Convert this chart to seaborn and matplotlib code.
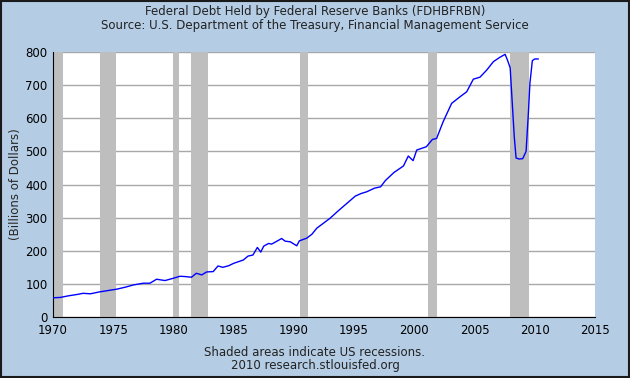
import numpy as np
import pandas as pd
import matplotlib
matplotlib.use('Agg')
import matplotlib.pyplot as plt
import seaborn as sns
from matplotlib.patches import Rectangle

# 数据：年份（小数）与联储持有的联邦债务（十亿美元）
years = [1970.0, 1970.6, 1971.3, 1972.0, 1972.5, 1973.1, 1973.9, 1974.6, 1975.3,
         1976.0, 1976.7, 1977.5, 1978.05, 1978.6, 1979.3, 1980.0, 1980.55, 1981.0,
         1981.5, 1981.9, 1982.35, 1982.75, 1983.3, 1983.7, 1984.1, 1984.6, 1985.0,
         1985.8, 1986.2, 1986.6, 1986.97, 1987.25, 1987.5, 1987.9, 1988.15, 1988.6,
         1988.99, 1989.27, 1989.7, 1990.24, 1990.46, 1991.07, 1991.5, 1991.9, 1992.45,
         1993.0, 1993.7, 1994.4, 1995.1, 1995.6, 1996.05, 1996.7, 1997.2, 1997.6,
         1998.3, 1999.1, 1999.5, 1999.9, 2000.2, 2001.0, 2001.5, 2001.85, 2002.4,
         2003.1, 2003.8, 2004.35, 2004.9, 2005.45, 2006.0, 2006.57, 2007.1, 2007.54,
         2007.73, 2007.96, 2008.15, 2008.3, 2008.45, 2008.7, 2009.0, 2009.28, 2009.47,
         2009.6, 2009.8, 2010.0, 2010.3]
debt = [58, 59, 64, 68, 71.5, 70, 76, 80, 84,
        90, 97, 102, 102, 114, 110, 117, 123, 122,
        120, 132, 127, 136, 137, 154, 150, 155, 162,
        172, 184, 187, 210, 196, 214, 222, 220, 229,
        237, 229, 227, 215, 230, 238, 250, 268, 283,
        298, 321, 343, 365, 373, 378, 389, 393, 412,
        436, 456, 486, 472, 504, 514, 536, 539, 590,
        645, 665, 680, 718, 724, 745, 771, 784, 793,
        776, 752, 635, 544, 480, 477, 478, 500, 615,
        706, 774, 779, 779]

# 经济衰退区间
rec_start = [1969.9, 1973.87, 1980.0, 1981.5, 1990.5, 2001.17, 2007.92]
rec_end = [1970.87, 1975.2, 1980.5, 1982.87, 1991.2, 2001.87, 2009.5]

x_ticks = [1970, 1975, 1980, 1985, 1990, 1995, 2000, 2005, 2010, 2015]
y_ticks = [0, 100, 200, 300, 400, 500, 600, 700, 800]

bg = '#b4cce4'
df = pd.DataFrame({'year': years, 'debt': debt})

sns.set_style('white')
plt.rcParams['font.family'] = ['DejaVu Sans']

fig = plt.figure(figsize=(6.3, 3.78), dpi=100, facecolor=bg)
ax = fig.add_axes([0.0841, 0.1614, 0.8603, 0.701])
ax.set_facecolor('white')

for s, e in zip(rec_start, rec_end):
    ax.axvspan(s, e, color='#bebebe', lw=0, zorder=1)

sns.lineplot(data=df, x='year', y='debt', color='#0000ff', lw=1.0, ax=ax, zorder=3)

ax.set_xlim(1970, 2015)
ax.set_ylim(0, 800)
ax.set_xticks(x_ticks)
ax.set_yticks(y_ticks)
ax.yaxis.grid(True, color='#a8a8a8', lw=1.0)
for gl in ax.get_ygridlines():
    gl.set_zorder(2)
ax.tick_params(axis='both', direction='in', length=5, width=1, colors='black',
               labelsize=8.5)
ax.tick_params(axis='x', pad=5)
ax.tick_params(axis='y', pad=4)
ax.spines['top'].set_visible(False)
ax.spines['right'].set_visible(False)
ax.spines['left'].set_color('black')
ax.spines['bottom'].set_color('black')
ax.set_xlabel('')
ax.set_ylabel('(Billions of Dollars)', fontsize=8.5, labelpad=2)

fig.text(0.5, 1 - 12 / 378, 'Federal Debt Held by Federal Reserve Banks (FDHBFRBN)',
         ha='center', va='center', fontsize=8.5, color='#222222')
fig.text(0.5, 1 - 25 / 378, 'Source: U.S. Department of the Treasury, Financial Management Service',
         ha='center', va='center', fontsize=8.5, color='#222222')
fig.text(0.5, 1 - 352 / 378, 'Shaded areas indicate US recessions.',
         ha='center', va='center', fontsize=8.5, color='#222222')
fig.text(0.5, 1 - 365 / 378, '2010 research.stlouisfed.org',
         ha='center', va='center', fontsize=8.5, color='#222222')

fig.patches.append(Rectangle((0.0016, 0.0026), 0.9968, 0.9948, transform=fig.transFigure,
                             fill=False, edgecolor='#1a1a1a', lw=1.5))

fig.savefig('out.png', dpi=100, facecolor=bg)
